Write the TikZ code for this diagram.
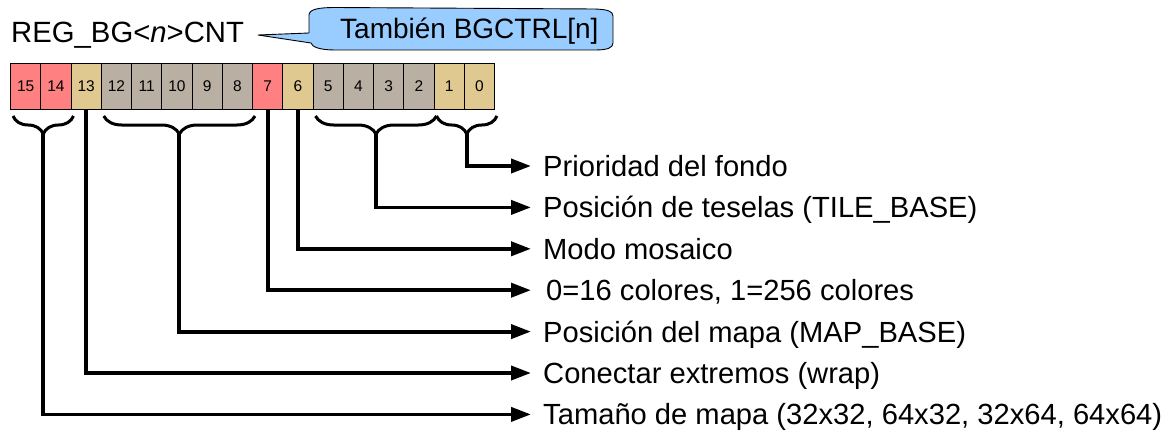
\documentclass[tikz,border=0pt]{standalone}
\usepackage{fontspec}
\setmainfont{Liberation Sans}
\usetikzlibrary{arrows.meta,decorations.pathreplacing,calc}
\definecolor{bitred}{HTML}{FF8080}
\definecolor{bittan}{HTML}{E0C891}
\definecolor{bitgrey}{HTML}{B9AFA3}
\definecolor{bubblue}{HTML}{99CCFF}
\tikzset{
  cell/.style={draw=black,line width=1pt,minimum width=30.25pt,minimum height=45pt,
    inner sep=0pt,anchor=north west,font=\fontsize{15.5}{18}\selectfont},
  brc/.style={decorate,decoration={brace,mirror,amplitude=18pt},line width=3pt},
  conn/.style={line width=3.8pt,miter limit=10,-{Triangle[length=20pt,width=14pt]}},
  lbl/.style={anchor=base west,inner sep=0pt,text height=21pt,text depth=0pt,
    font=\fontsize{29.15}{34}\selectfont},
}
\begin{document}
\begin{tikzpicture}[x=1pt,y=-1pt]
\useasboundingbox (0,0) rectangle (1167,436);
% bubble
\draw[fill=bubblue,line width=0.9pt,line join=round]
  (258,35) -- (309,33) -- (309,15) .. controls (309,9) and (320,7.5) .. (335,7.5)
  -- (595,9) .. controls (607,9.5) and (613,11) .. (613,16) -- (613,43)
  .. controls (613,48) and (607,50) .. (595,50) -- (335,50)
  .. controls (320,50) and (312,47) .. (311,43) -- cycle;
\node[anchor=base west,inner sep=0pt,font=\fontsize{28}{32}\selectfont] (bub) at (340,38.5) {También BGCTRL[n]};
\node[anchor=base west,inner sep=0pt,font=\fontsize{29.3}{34}\selectfont] (title) at (11,43) {REG\_BG<\textit{n}>CNT};
% cells
\foreach \b/\c [count=\k from 0] in {15/bitred,14/bitred,13/bittan,12/bitgrey,11/bitgrey,10/bitgrey,9/bitgrey,8/bitgrey,7/bitred,6/bittan,5/bitgrey,4/bitgrey,3/bitgrey,2/bitgrey,1/bittan,0/bittan}
  \node[cell,fill=\c] (b\b) at ({10+30.25*\k},63.5) {\b};
% braces
\draw[brc] ($(b15.south west)+(3,6.5)$) -- ($(b14.south east)+(2,6.5)$);
\draw[brc] ($(b12.south west)+(3,6.5)$) -- ($(b8.south east)+(2,6.5)$);
\draw[brc] ($(b5.south west)+(3,6.5)$) -- ($(b2.south east)+(2,6.5)$);
\draw[brc] ($(b1.south west)+(3,6.5)$) -- ($(b0.south east)+(2,6.5)$);
\coordinate (k1) at ($(b15.south west)!0.5!(b14.south east)+(2.5,23.5)$);
\coordinate (k2) at ($(b12.south west)!0.5!(b8.south east)+(2.5,23.5)$);
\coordinate (k3) at ($(b5.south west)!0.5!(b2.south east)+(2.5,23.5)$);
\coordinate (k4) at ($(b1.south west)!0.5!(b0.south east)+(2.5,23.5)$);
% labels
\node[lbl] (t1) at (543,176.5) {Prioridad del fondo};
\node[lbl] (t2) at (543,217.9) {Posición de teselas (TILE\_BASE)};
\node[lbl] (t3) at (543,259.3) {Modo mosaico};
\node[lbl] (t4) at (546,300.7) {0=16 colores, 1=256 colores};
\node[lbl] (t5) at (543,342.1) {Posición del mapa (MAP\_BASE)};
\node[lbl] (t6) at (543,383.5) {Conectar extremos (wrap)};
\node[lbl] (t7) at (543,424.9) {Tamaño de mapa (32x32, 64x32, 32x64, 64x64)};
% connectors
\draw[conn] (k4) |- ([xshift=-12pt]t1.west);
\draw[conn] (k3) |- ([xshift=-12pt]t2.west);
\draw[conn] (b6.south) |- ([xshift=-12pt]t3.west);
\draw[conn] (b7.south) |- ([xshift=-15pt]t4.west);
\draw[conn] (k2) |- ([xshift=-12pt]t5.west);
\draw[conn] (b13.south) |- ([xshift=-12pt]t6.west);
\draw[conn] (k1) |- ([xshift=-12pt]t7.west);
\end{tikzpicture}
\end{document}
